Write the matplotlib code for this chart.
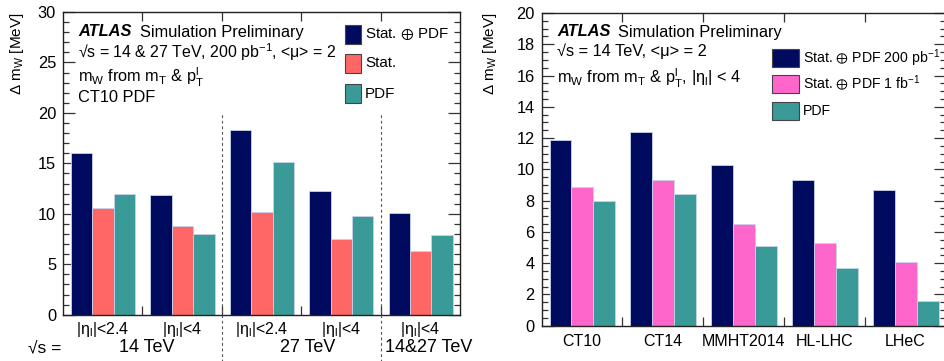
import matplotlib
matplotlib.use("Agg")
import matplotlib.pyplot as plt
import numpy as np
from matplotlib.patches import Rectangle
from matplotlib.ticker import MultipleLocator, FixedLocator

plt.rcParams['font.family'] = ['Liberation Sans', 'DejaVu Sans']
plt.rcParams['mathtext.fontset'] = 'custom'
plt.rcParams['mathtext.rm'] = 'Liberation Sans'
plt.rcParams['mathtext.it'] = 'Liberation Sans:italic'
plt.rcParams['mathtext.bf'] = 'Liberation Sans:bold'
plt.rcParams['mathtext.fallback'] = 'stixsans'

# ---- data: left panel (CT10, 14 & 27 TeV) ----
left_eta = [r'|η$_\mathrm{l}$|<2.4', r'|η$_\mathrm{l}$|<4', r'|η$_\mathrm{l}$|<2.4',
            r'|η$_\mathrm{l}$|<4', r'|η$_\mathrm{l}$|<4']
left_energy = ['14 TeV', '27 TeV', '14&27 TeV']
left_stat_pdf = [16.0, 11.9, 18.3, 12.3, 10.1]
left_stat = [10.6, 8.8, 10.2, 7.5, 6.3]
left_pdf = [12.0, 8.0, 15.1, 9.8, 7.9]

# ---- data: right panel (PDF sets, 14 TeV, |eta|<4) ----
right_sets = ['CT10', 'CT14', 'MMHT2014', 'HL-LHC', 'LHeC']
right_stat_pdf_200 = [11.9, 12.4, 10.3, 9.35, 8.7]
right_stat_pdf_1fb = [8.9, 9.35, 6.5, 5.3, 4.1]
right_pdf = [8.0, 8.4, 5.1, 3.7, 1.6]

NAVY = '#000a5e'
SALMON = '#ff6666'
PINK = '#ff66cc'
TEAL = '#3a9a98'
EDGE = '#c9d2ea'

W, H = 944, 361
TXT = 11.8


def fx(px):
    return px / W


def fy(py):
    return 1 - py / H


def style_axes(ax, ymax, major, minor):
    ax.set_xlim(0, 5)
    ax.set_ylim(0, ymax)
    ax.yaxis.set_major_locator(MultipleLocator(major))
    ax.yaxis.set_minor_locator(MultipleLocator(minor))
    ax.xaxis.set_major_locator(FixedLocator([1, 2, 3, 4]))
    ax.xaxis.set_minor_locator(FixedLocator([0.5, 1.5, 2.5, 3.5, 4.5]))
    ax.tick_params(axis='y', which='both', direction='in', left=True, right=True,
                   labelsize=11.8, pad=5, color='#333333')
    ax.tick_params(axis='y', which='major', length=8.5, width=0.9)
    ax.tick_params(axis='y', which='minor', length=4.3, width=0.9)
    ax.tick_params(axis='x', which='major', direction='in', top=True, bottom=True,
                   length=6.5, width=0.9, labelbottom=False, color='#333333')
    ax.tick_params(axis='x', which='minor', length=0, labelsize=11.5)
    for s in ax.spines.values():
        s.set_linewidth(1.0)
        s.set_color('#222222')


def draw_bars(ax, series, colors):
    x = np.arange(5)
    bw = 0.27
    for j, (vals, c) in enumerate(zip(series, colors)):
        ax.bar(x + 0.1 + bw * (j + 0.5), vals, width=bw, color=c,
               edgecolor=EDGE, linewidth=0.6, zorder=2)


def draw_legend(labels, colors, x0, y_centers, bw, bh, tx, size):
    for lab, c, yc in zip(labels, colors, y_centers):
        fig.patches.append(Rectangle((fx(x0), fy(yc + bh / 2)), bw / W, bh / H,
                                     transform=fig.transFigure, facecolor=c,
                                     edgecolor='#444444', linewidth=0.8))
        fig.text(fx(tx), fy(yc), lab, ha='left', va='center', fontsize=size)


fig = plt.figure(figsize=(W / 100, H / 100), dpi=100)

# ---------------- left panel ----------------
ax1 = fig.add_axes([fx(63), fy(314.7), fx(460) - fx(63), (314.7 - 12) / H])
draw_bars(ax1, [left_stat_pdf, left_stat, left_pdf], [NAVY, SALMON, TEAL])
style_axes(ax1, 30, 5, 1)
ax1.set_xticklabels(left_eta, minor=True)
ax1.tick_params(axis='x', which='minor', pad=4)
for xd in [2, 4]:
    ax1.axvline(xd, ymin=-0.16, ymax=20 / 30, clip_on=False, color='#555555',
                linestyle=(0, (2.5, 2.5)), linewidth=0.8, zorder=3)

fig.text(fx(45), fy(348), '√s =', ha='center', va='center', fontsize=12.5)
for lab, px in zip(left_energy, [147, 308, 429]):
    fig.text(fx(px), fy(348), lab, ha='center', va='center', fontsize=13)

fig.text(fx(78), fy(32), 'ATLAS', fontsize=TXT, fontweight='bold', style='italic',
         ha='left', va='center')
fig.text(fx(140), fy(32), 'Simulation Preliminary', fontsize=TXT, ha='left', va='center')
fig.text(fx(78), fy(52), r'√s = 14 & 27 TeV, 200 pb$^{-1}$, <μ> = 2', fontsize=11.4,
         ha='left', va='center')
fig.text(fx(78), fy(77), r'm$_\mathrm{W}$ from m$_\mathrm{T}$ & p$_\mathrm{T}^\mathrm{l}$',
         fontsize=TXT, ha='left', va='center')
fig.text(fx(78), fy(98), 'CT10 PDF', fontsize=TXT, ha='left', va='center')

draw_legend([r'Stat. $\oplus$ PDF', 'Stat.', 'PDF'], [NAVY, SALMON, TEAL],
            345, [34.5, 63, 93.5], 16, 19, 365, 10.9)

fig.text(fx(17), fy(12), r'Δ m$_\mathrm{W}$ [MeV]', rotation=90, ha='center', va='top',
         fontsize=11)

# ---------------- right panel ----------------
ax2 = fig.add_axes([fx(541.5), fy(325.7), fx(946) - fx(541.5), (325.7 - 13) / H])
draw_bars(ax2, [right_stat_pdf_200, right_stat_pdf_1fb, right_pdf], [NAVY, PINK, TEAL])
style_axes(ax2, 20, 2, 0.5)
ax2.set_xticklabels(right_sets, minor=True)
ax2.tick_params(axis='x', which='minor', pad=6)

fig.text(fx(557), fy(32), 'ATLAS', fontsize=TXT, fontweight='bold', style='italic',
         ha='left', va='center')
fig.text(fx(617.5), fy(32), 'Simulation Preliminary', fontsize=TXT, ha='left', va='center')
fig.text(fx(557), fy(51), r'√s = 14 TeV, <μ> = 2', fontsize=TXT, ha='left', va='center')
fig.text(fx(557), fy(78),
         r'm$_\mathrm{W}$ from m$_\mathrm{T}$ & p$_\mathrm{T}^\mathrm{l}$, |η$_\mathrm{l}$| < 4',
         fontsize=TXT, ha='left', va='center')

draw_legend([r'Stat. $\oplus$ PDF 200 pb$^{-1}$', r'Stat. $\oplus$ PDF 1 fb$^{-1}$', 'PDF'],
            [NAVY, PINK, TEAL], 772, [58, 83.5, 110.5], 27, 18, 803, 10.2)

fig.text(fx(490), fy(12), r'Δ m$_\mathrm{W}$ [MeV]', rotation=90, ha='center', va='top',
         fontsize=11)

fig.savefig('out.png', dpi=100)
